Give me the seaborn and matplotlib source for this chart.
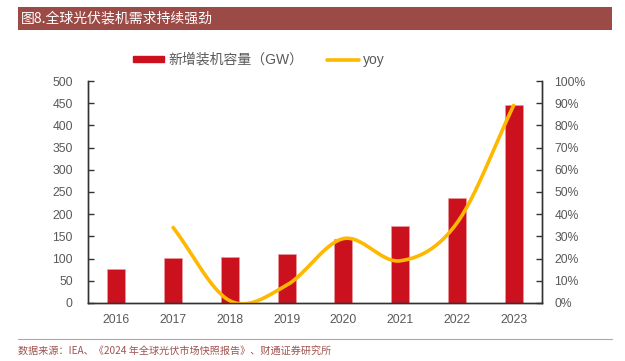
import numpy as np
import matplotlib
matplotlib.use("Agg")
import matplotlib.pyplot as plt
import seaborn as sns
from matplotlib.patches import Rectangle
from matplotlib.lines import Line2D

years = ["2016", "2017", "2018", "2019", "2020", "2021", "2022", "2023"]
capacity = [76, 102, 103, 111, 145, 173, 236, 446]
yoy_years = ["2017", "2018", "2019", "2020", "2021", "2022", "2023"]
yoy = [34, 1, 8, 29, 19, 36, 89]

title = "图8.全球光伏装机需求持续强劲"
source = "数据来源：IEA、《2024 年全球光伏市场快照报告》、财通证券研究所"
bar_label = "新增装机容量（GW）"
line_label = "yoy"

BAR_RED = "#CC111E"
GOLD = "#FFB800"
HEADER = "#9C4A46"
GREY = "#595959"

sns.set_theme(style="white")
plt.rcParams["font.family"] = ["Liberation Sans", "Noto Sans CJK SC", "DejaVu Sans"]


def catmull_rom(xs, ys, n=30):
    # smooth curve through points, like the spreadsheet "smoothed line"
    xs = np.asarray(xs, float)
    ys = np.asarray(ys, float)
    px = np.concatenate([[2 * xs[0] - xs[1]], xs, [2 * xs[-1] - xs[-2]]])
    py = np.concatenate([[2 * ys[0] - ys[1]], ys, [2 * ys[-1] - ys[-2]]])
    out_x, out_y = [], []
    t = np.linspace(0, 1, n)
    for i in range(1, len(px) - 2):
        for arr, out in ((px, out_x), (py, out_y)):
            p0, p1, p2, p3 = arr[i - 1], arr[i], arr[i + 1], arr[i + 2]
            seg = 0.5 * ((2 * p1) + (-p0 + p2) * t
                         + (2 * p0 - 5 * p1 + 4 * p2 - p3) * t ** 2
                         + (-p0 + 3 * p1 - 3 * p2 + p3) * t ** 3)
            out.extend(seg if i == 1 else seg[1:])
    return np.array(out_x), np.array(out_y)


fig = plt.figure(figsize=(6.25, 3.61), dpi=100)
ax = fig.add_axes([0.1408, 0.1607, 0.7264, 0.6149])

sns.barplot(x=years, y=capacity, color=BAR_RED, width=0.32, saturation=1,
            edgecolor="#E8A0A0", linewidth=0.4, ax=ax)
ax.set_ylim(0, 500)
ax.set_yticks(range(0, 501, 50))
ax.set_xlim(-0.5, 7.5)
ax.set_xlabel("")
ax.set_ylabel("")

ax2 = ax.twinx()
xpos = [years.index(y) for y in yoy_years]
sx, sy = catmull_rom(xpos, yoy)
sns.lineplot(x=sx, y=sy, color=GOLD, linewidth=2.6, sort=False, ax=ax2)
ax2.set_ylim(0, 100)
ax2.set_yticks(range(0, 101, 10))
ax2.set_yticklabels([f"{v}%" for v in range(0, 101, 10)])

for a in (ax, ax2):
    a.spines["top"].set_visible(False)
    for side in ("left", "right", "bottom"):
        a.spines[side].set_color("#333333")
        a.spines[side].set_linewidth(1.0)
ax.tick_params(axis="y", direction="in", length=4, width=1, color="#333333",
               labelsize=8.7, labelcolor=GREY, pad=11)
ax.tick_params(axis="x", length=0, labelsize=8.7, labelcolor=GREY, pad=8)
ax2.tick_params(axis="y", direction="in", length=4, width=1, color="#333333",
                labelsize=8.7, labelcolor=GREY, pad=9)

# legend
handles = [Rectangle((0, 0), 1, 1, color=BAR_RED),
           Line2D([0], [0], color=GOLD, linewidth=2.6)]
fig.legend(handles, [bar_label, line_label], loc="center left",
           bbox_to_anchor=(0.2128, 0.834), ncol=2, frameon=False,
           labelcolor=GREY, handlelength=2.25, handleheight=0.36,
           columnspacing=1.75, handletextpad=0.28, borderpad=0, borderaxespad=0,
           prop={"family": ["Liberation Sans", "Noto Sans CJK SC"], "size": 10})

# header bar
fig.patches.append(Rectangle((0.029, 0.917), 0.950, 0.064, transform=fig.transFigure,
                             facecolor=HEADER, edgecolor="none"))
fig.text(0.034, 0.949, title, color="white", fontsize=10, va="center", ha="left",
         family=["Noto Sans CJK SC", "DejaVu Sans"])

# footer line and source
fig.add_artist(Line2D([0.029, 0.979], [0.061, 0.061], transform=fig.transFigure,
                      color="#C89A98", linewidth=0.8))
fig.text(0.029, 0.025, source, color="#A0524F", fontsize=7.25, va="center", ha="left",
         family=["Noto Sans CJK SC", "DejaVu Sans"])

fig.savefig("out.png", dpi=100)
